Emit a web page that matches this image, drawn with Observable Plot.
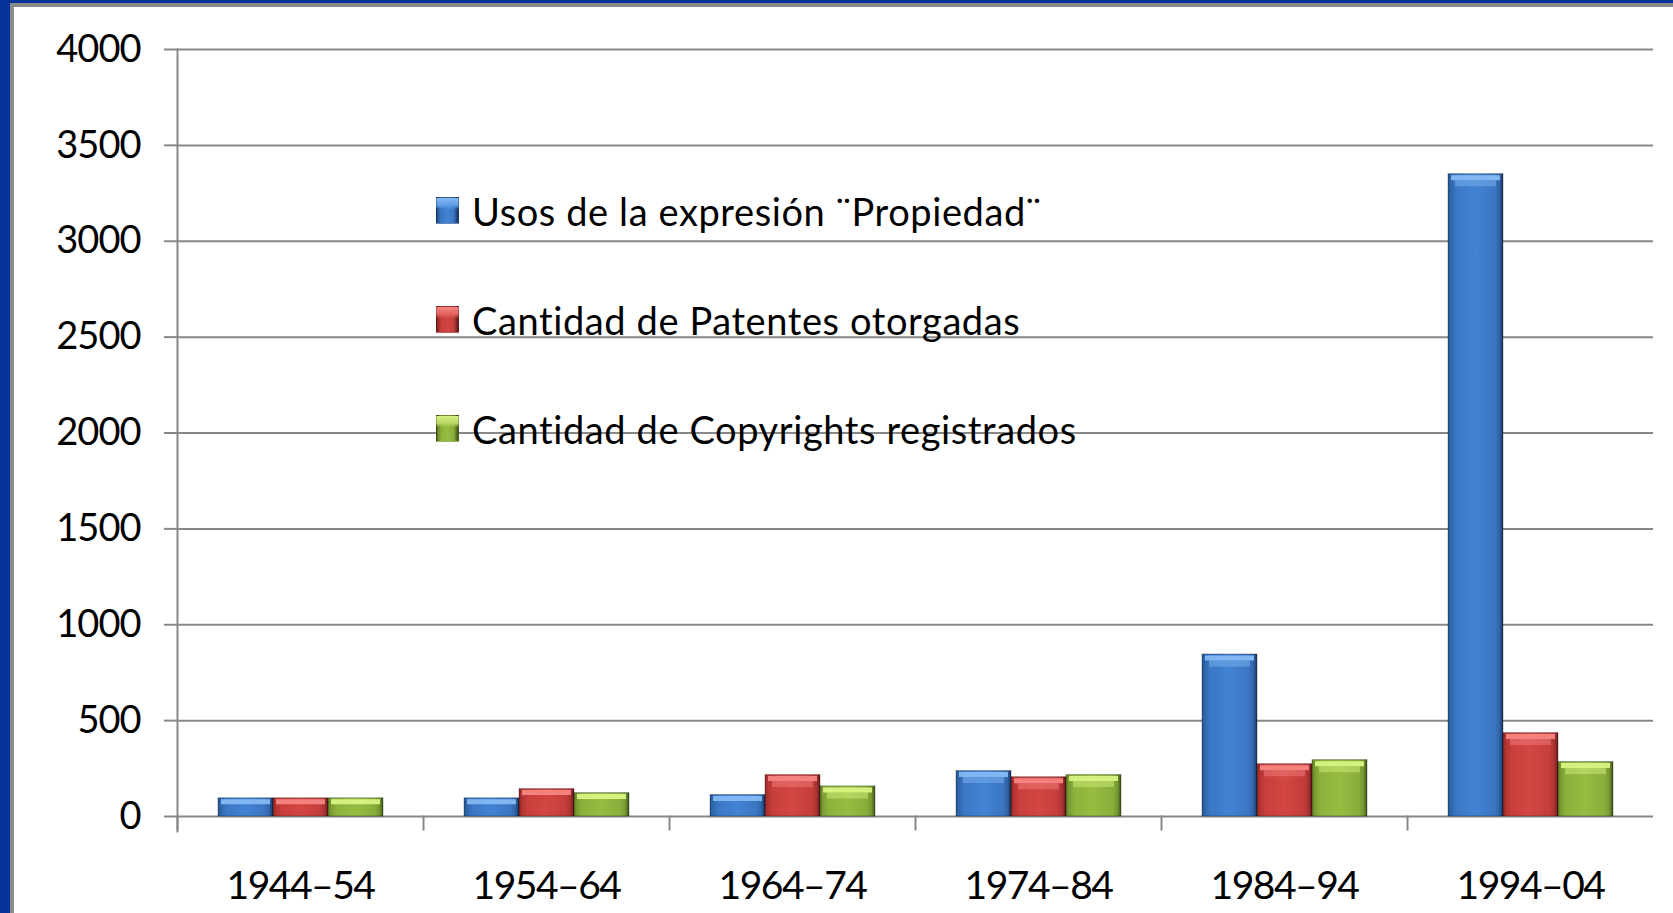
<!DOCTYPE html>
<html>
<head>
<meta charset="utf-8">
<script src="https://cdn.jsdelivr.net/npm/d3@7"></script>
<script src="https://cdn.jsdelivr.net/npm/@observablehq/plot@0.6"></script>
<style>
  html, body { margin: 0; padding: 0; background: #fff; width: 1673px; height: 913px; overflow: hidden; }
  #chart { position: absolute; left: 0; top: 0; }
  #chart svg text { font-weight: 400; }
  .yax text { letter-spacing: -1px; }
  .fxax text { letter-spacing: -1.5px; }
  .edge { position: absolute; z-index: 2; }
  #legend { position: absolute; left: 436px; top: 156px; z-index: 3;
            font-family: Lato, "Open Sans", sans-serif; font-weight: 400; }
  .lrow { display: flex; align-items: center; height: 109px; }
  .lsw { width: 23px; height: 27px; box-sizing: border-box; border: 1px solid rgba(0,0,0,0.25); }
  .ltx { margin-left: 13px; font-size: 38px; letter-spacing: 0.6px; color: #000; white-space: nowrap; }
</style>
</head>
<body>
<svg width="0" height="0" style="position:absolute">
  <defs>
    <linearGradient id="gBlue" x1="0" x2="1" y1="0" y2="0">
      <stop offset="0" stop-color="#24548f"/>
      <stop offset="0.05" stop-color="#2f66ab"/>
      <stop offset="0.15" stop-color="#3b78c6"/>
      <stop offset="0.5" stop-color="#4283d3"/>
      <stop offset="0.85" stop-color="#3b76c2"/>
      <stop offset="0.94" stop-color="#2e62a4"/>
      <stop offset="1" stop-color="#17325a"/>
    </linearGradient>
    <linearGradient id="gRed" x1="0" x2="1" y1="0" y2="0">
      <stop offset="0" stop-color="#8e2624"/>
      <stop offset="0.05" stop-color="#b23432"/>
      <stop offset="0.15" stop-color="#c83f3c"/>
      <stop offset="0.5" stop-color="#d24643"/>
      <stop offset="0.85" stop-color="#c43e3b"/>
      <stop offset="0.94" stop-color="#a83230"/>
      <stop offset="1" stop-color="#5e1a19"/>
    </linearGradient>
    <linearGradient id="gGreen" x1="0" x2="1" y1="0" y2="0">
      <stop offset="0" stop-color="#5e7a26"/>
      <stop offset="0.05" stop-color="#7a9c33"/>
      <stop offset="0.15" stop-color="#8db23c"/>
      <stop offset="0.5" stop-color="#96bc42"/>
      <stop offset="0.85" stop-color="#8aae3b"/>
      <stop offset="0.94" stop-color="#739530"/>
      <stop offset="1" stop-color="#3c5118"/>
    </linearGradient>
  </defs>
</svg>
<div id="chart"></div>
<div class="edge" style="left:0;top:0;width:10px;height:913px;background:#07349a"></div>
<div class="edge" style="left:0;top:0;width:1673px;height:3px;background:#07349a"></div>
<div class="edge" style="left:10px;top:3px;width:4px;height:910px;background:#8a8a8a"></div>
<div class="edge" style="left:10px;top:3px;width:1663px;height:4px;background:#8a8a8a"></div>
<div id="legend"></div>
<script>
// ---- data ----
const periods = ["1944–54", "1954–64", "1964–74", "1974–84", "1984–94", "1994–04"];
const series = [
  "Usos de la expresión ¨Propiedad¨",
  "Cantidad de Patentes otorgadas",
  "Cantidad de Copyrights registrados"
];
const usos       = [95, 95, 112, 237, 845, 3350];
const patentes   = [95, 143, 216, 205, 273, 435];
const copyrights = [95, 122, 157, 216, 294, 284];
const yTicks = [0, 500, 1000, 1500, 2000, 2500, 3000, 3500, 4000];

// ---- styles ----
const FONT = 'Lato, "Open Sans", sans-serif';
const fills = ["url(#gBlue)", "url(#gRed)", "url(#gGreen)"];
const lights = ["#86b9f3", "#f58581", "#d8f383"];
const swatchCss = [
  "linear-gradient(to bottom, #86b9f3 0%, #5d9be3 30%, rgba(0,0,0,0) 45%), linear-gradient(to right, #24548f, #3b78c6 20%, #4283d3 50%, #3b76c2 80%, #17325a)",
  "linear-gradient(to bottom, #f58581 0%, #e2605c 30%, rgba(0,0,0,0) 45%), linear-gradient(to right, #8e2624, #c83f3c 20%, #d24643 50%, #c43e3b 80%, #5e1a19)",
  "linear-gradient(to bottom, #d8f383 0%, #b6d65e 30%, rgba(0,0,0,0) 45%), linear-gradient(to right, #5e7a26, #8db23c 20%, #96bc42 50%, #8aae3b 80%, #3c5118)"
];

const data = [];
periods.forEach((p, i) => {
  data.push({period: p, series: series[0], value: usos[i]});
  data.push({period: p, series: series[1], value: patentes[i]});
  data.push({period: p, series: series[2], value: copyrights[i]});
});

const marginTop = 49, marginBottom = 97, H = 913;
const innerH = H - marginTop - marginBottom;

const highlights = series.flatMap((s, k) => [
  Plot.tickY(data.filter(d => d.series === s), {
    fx: "period", x: "series", y: "value",
    stroke: lights[k], strokeWidth: 5, dy: 3.5, insetLeft: 3, insetRight: 3, strokeOpacity: 0.95
  }),
  Plot.tickY(data.filter(d => d.series === s && d.value > 150), {
    fx: "period", x: "series", y: "value",
    stroke: lights[k], strokeWidth: 6, dy: 9, insetLeft: 7, insetRight: 7, strokeOpacity: 0.45
  })
]);

const chart = Plot.plot({
  width: 1673,
  height: H,
  marginLeft: 177,
  marginRight: 20,
  marginTop,
  marginBottom,
  style: {background: "transparent", fontFamily: FONT, color: "#000", overflow: "visible"},
  fx: {domain: periods, padding: 0, axis: null},
  x: {domain: series, paddingInner: 0, paddingOuter: 0.736, axis: null},
  y: {domain: [0, 4000], axis: null},
  color: {domain: series, range: fills},
  marks: [
    Plot.gridY(yTicks, {stroke: "#888", strokeOpacity: 1, strokeWidth: 2}),
    Plot.axisY(yTicks, {tickSize: 13, tickPadding: 24, fontSize: 38, stroke: "#888", strokeWidth: 2,
                        fill: "#000", label: null, tickFormat: d3.format("d"), className: "yax"}),
    Plot.frame({anchor: "left", facetAnchor: "left", stroke: "#888", strokeWidth: 2, insetBottom: -15}),
    Plot.frame({anchor: "left", stroke: "#888", strokeWidth: 2, insetTop: innerH, insetBottom: -13}),
    Plot.barY(data, {fx: "period", x: "series", y: "value", fill: "series",
                     stroke: "rgba(0,0,0,0.3)", strokeWidth: 1}),
    ...highlights,
    Plot.axisFx({anchor: "bottom", tickSize: 0, tickPadding: 55, fontSize: 39, fill: "#000", label: null,
                 className: "fxax"})
  ]
});
document.getElementById("chart").appendChild(chart);

// ---- legend ----
const legend = document.getElementById("legend");
series.forEach((s, k) => {
  const row = document.createElement("div");
  row.className = "lrow";
  const sw = document.createElement("span");
  sw.className = "lsw";
  sw.style.background = swatchCss[k];
  const tx = document.createElement("span");
  tx.className = "ltx";
  tx.textContent = s;
  row.appendChild(sw);
  row.appendChild(tx);
  legend.appendChild(row);
});
</script>
</body>
</html>
